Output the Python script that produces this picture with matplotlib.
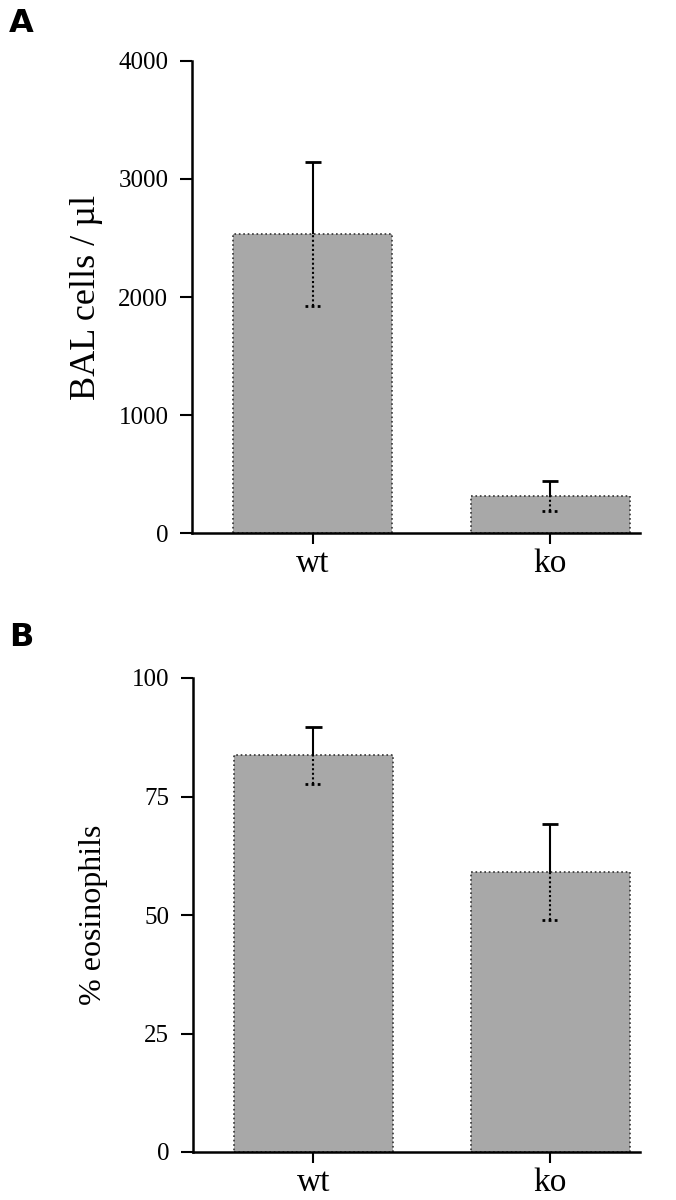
import matplotlib
matplotlib.use('Agg')
import matplotlib.pyplot as plt
import numpy as np

groups = ['wt', 'ko']

bal_cells = [2535, 313]
bal_err = [610, 125]

eos_pct = [83.7, 59.1]
eos_err = [6.0, 10.2]

plt.rcParams['font.family'] = ['Liberation Serif', 'DejaVu Serif']

fig = plt.figure(figsize=(6.76, 12), dpi=100)

bar_color = '#a8a8a8'
edge_color = '#333333'


def draw_panel(ax, values, errs, ylim, yticks, ylabel, label_size, label_pad):
    pos = np.arange(len(groups))
    ax.bar(pos, values, width=0.67, color=bar_color, edgecolor=edge_color,
           linewidth=1.2, linestyle=':', zorder=2)
    vals = np.array(values)
    e = np.array(errs)
    cap = 0.035
    # upper half of the error bar: solid with cap
    ax.vlines(pos, vals, vals + e, color='black', linewidth=1.5, zorder=3)
    ax.hlines(vals + e, pos - cap, pos + cap, color='black', linewidth=2, zorder=3)
    # lower half inside the bar: dotted
    ax.vlines(pos, vals - e, vals, color='black', linewidth=1.5, linestyle=(0, (1, 1.2)), zorder=3)
    ax.hlines(vals - e, pos - cap, pos + cap, color='black', linewidth=2,
              linestyle=(0, (1, 1.2)), zorder=3)

    ax.set_xlim(-0.51, 1.38)
    ax.set_ylim(*ylim)
    ax.set_yticks(yticks)
    ax.set_xticks(pos)
    ax.set_xticklabels(groups, fontsize=24)
    ax.tick_params(axis='y', labelsize=18, length=9, width=1.5, pad=8)
    ax.tick_params(axis='x', length=8, width=1.5, pad=3)
    for side in ['top', 'right']:
        ax.spines[side].set_visible(False)
    for side in ['left', 'bottom']:
        ax.spines[side].set_linewidth(1.8)
    ax.set_ylabel(ylabel, fontsize=label_size, labelpad=label_pad)


ax1 = fig.add_axes([0.284, 0.5558, 0.663, 0.3934])
draw_panel(ax1, bal_cells, bal_err, (0, 4000), [0, 1000, 2000, 3000, 4000],
           'BAL cells / µl', 26, 11)

ax2 = fig.add_axes([0.285, 0.04, 0.662, 0.395])
draw_panel(ax2, eos_pct, eos_err, (0, 100), [0, 25, 50, 75, 100],
           '% eosinophils', 23, 17)

fig.text(0.013, 0.993, 'A', fontsize=23, fontweight='bold', family='DejaVu Sans', va='top')
fig.text(0.013, 0.482, 'B', fontsize=23, fontweight='bold', family='DejaVu Sans', va='top')

fig.savefig('out.png', dpi=100)
